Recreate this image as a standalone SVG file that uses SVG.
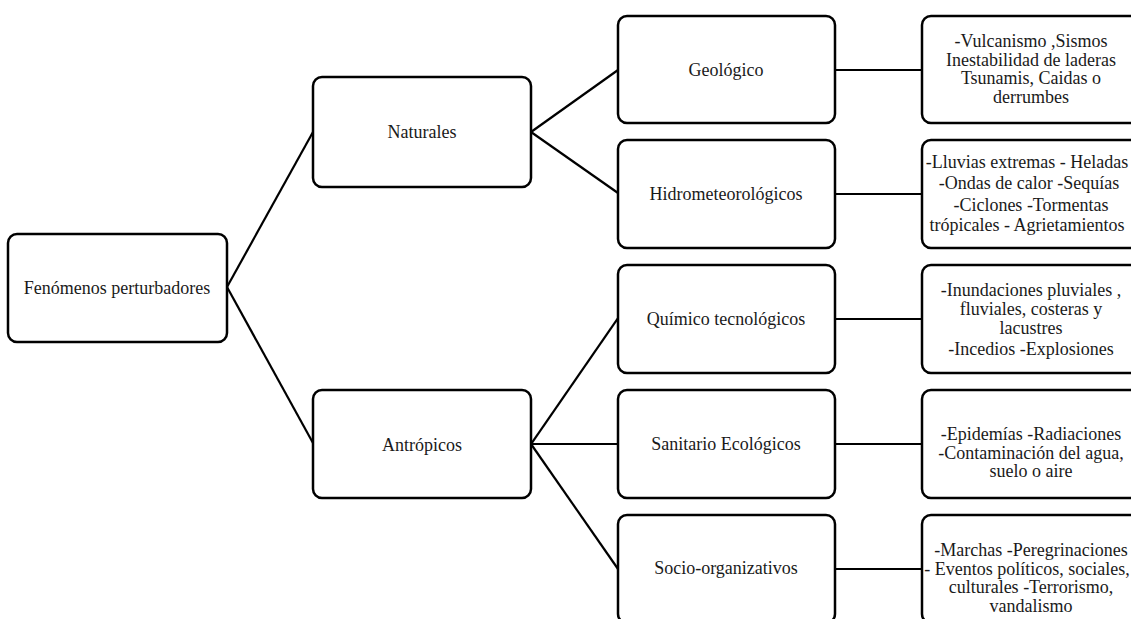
<svg xmlns="http://www.w3.org/2000/svg" width="1131" height="619" viewBox="0 0 1131 619">
<style>
.box{fill:#fff;stroke:#000;stroke-width:2.5}
.lbl{font-family:"Liberation Serif","Times New Roman",serif;font-size:18px;fill:#1a1a1a;text-anchor:middle}
.con{stroke:#000;stroke-width:2.2;fill:none}
</style>
<rect width="1131" height="619" fill="#fff"/>
<g id="connectors">
<line class="con" x1="227" y1="287" x2="313" y2="132"/>
<line class="con" x1="227" y1="287" x2="313" y2="443"/>
<line class="con" x1="531" y1="132" x2="618" y2="70"/>
<line class="con" x1="531" y1="132" x2="618" y2="193"/>
<line class="con" x1="531" y1="444" x2="618" y2="318"/>
<line class="con" x1="531" y1="444" x2="618" y2="444"/>
<line class="con" x1="531" y1="444" x2="618" y2="569"/>
<line class="con" x1="835" y1="70" x2="922" y2="70"/>
<line class="con" x1="835" y1="194" x2="922" y2="194"/>
<line class="con" x1="835" y1="319" x2="922" y2="319"/>
<line class="con" x1="835" y1="444" x2="922" y2="444"/>
<line class="con" x1="835" y1="569" x2="922" y2="569"/>
</g>
<g id="root">
<rect class="box" x="8" y="234" width="219" height="108" rx="9"/>
<text class="lbl" x="117" y="294">Fenómenos perturbadores</text>
</g>
<g id="naturales">
<rect class="box" x="313" y="77" width="218" height="110" rx="9"/>
<text class="lbl" x="422" y="138">Naturales</text>
</g>
<g id="antropicos">
<rect class="box" x="313" y="390" width="218" height="108" rx="9"/>
<text class="lbl" x="422" y="451">Antrópicos</text>
</g>
<g id="geologico">
<rect class="box" x="618" y="16" width="217" height="107" rx="9"/>
<text class="lbl" x="726" y="76">Geológico</text>
</g>
<g id="hidro">
<rect class="box" x="618" y="140" width="217" height="108" rx="9"/>
<text class="lbl" x="726" y="200">Hidrometeorológicos</text>
</g>
<g id="quimico">
<rect class="box" x="618" y="265" width="217" height="108" rx="9"/>
<text class="lbl" x="726" y="325">Químico tecnológicos</text>
</g>
<g id="sanitario">
<rect class="box" x="618" y="390" width="217" height="108" rx="9"/>
<text class="lbl" x="726" y="450">Sanitario Ecológicos</text>
</g>
<g id="socio">
<rect class="box" x="618" y="515" width="217" height="108" rx="9"/>
<text class="lbl" x="726" y="574">Socio-organizativos</text>
</g>
<g id="geologico-detalle">
<rect class="box" x="922" y="16" width="220" height="107" rx="9"/>
<text class="lbl" x="1031" y="47">-Vulcanismo ,Sismos</text>
<text class="lbl" x="1031" y="65.5">Inestabilidad de laderas</text>
<text class="lbl" x="1031" y="84">Tsunamis, Caidas o</text>
<text class="lbl" x="1031" y="102.5">derrumbes</text>
</g>
<g id="hidro-detalle">
<rect class="box" x="922" y="140" width="220" height="108" rx="9"/>
<text class="lbl" x="1027" y="168">-Lluvias extremas - Heladas</text>
<text class="lbl" x="1029" y="189">-Ondas de calor -Sequías</text>
<text class="lbl" x="1031" y="211">-Ciclones -Tormentas</text>
<text class="lbl" x="1027" y="231">trópicales - Agrietamientos</text>
</g>
<g id="quimico-detalle">
<rect class="box" x="922" y="265" width="220" height="108" rx="9"/>
<text class="lbl" x="1031" y="296">-Inundaciones pluviales ,</text>
<text class="lbl" x="1031" y="315">fluviales, costeras y</text>
<text class="lbl" x="1031" y="333.5">lacustres</text>
<text class="lbl" x="1031" y="355">-Incedios -Explosiones</text>
</g>
<g id="sanitario-detalle">
<rect class="box" x="922" y="390" width="220" height="108" rx="9"/>
<text class="lbl" x="1031" y="440">-Epidemías -Radiaciones</text>
<text class="lbl" x="1031" y="458.5">-Contaminación del agua,</text>
<text class="lbl" x="1031" y="477">suelo o aire</text>
</g>
<g id="socio-detalle">
<rect class="box" x="922" y="515" width="220" height="108" rx="9"/>
<text class="lbl" x="1031" y="556">-Marchas -Peregrinaciones</text>
<text class="lbl" x="1027" y="574.5">- Eventos políticos, sociales,</text>
<text class="lbl" x="1031" y="593">culturales -Terrorismo,</text>
<text class="lbl" x="1031" y="611.5">vandalismo</text>
</g>
</svg>
